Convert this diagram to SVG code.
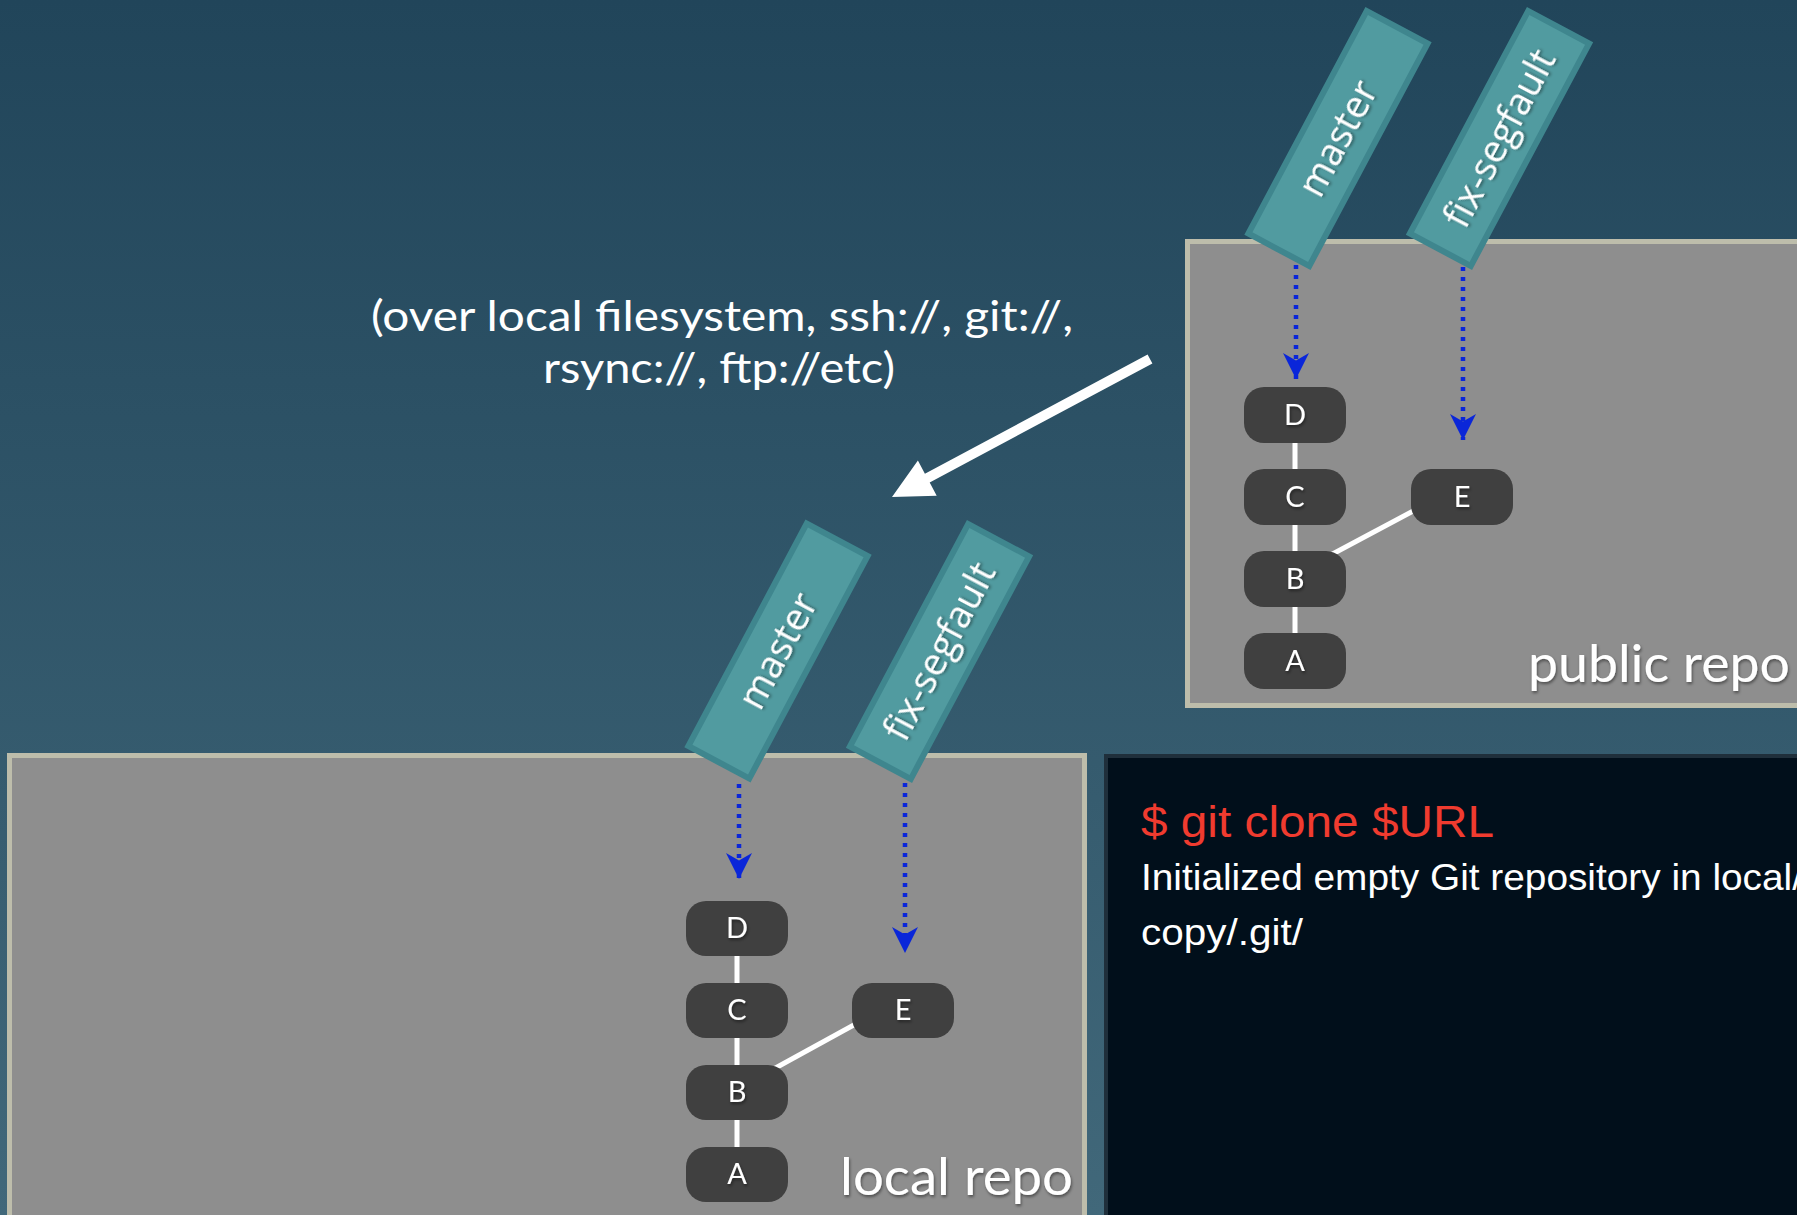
<svg xmlns="http://www.w3.org/2000/svg" width="1797" height="1215" viewBox="0 0 1797 1215">
<defs>
<linearGradient id="bg" x1="0" y1="0" x2="0" y2="1">
<stop offset="0" stop-color="#21455a"/>
<stop offset="1" stop-color="#41687a"/>
</linearGradient>
<filter id="sh" x="-20%" y="-20%" width="140%" height="140%">
<feDropShadow dx="1" dy="2" stdDeviation="1.5" flood-color="#000" flood-opacity="0.45"/>
</filter>
<marker id="ah" markerUnits="userSpaceOnUse" markerWidth="26" markerHeight="26" viewBox="0 0 24 24" refX="24" refY="12" orient="auto">
<path d="M0,0 L24,12 L0,24 L7,12 z" fill="#0a26d9"/>
</marker>
</defs>
<style>
.repo{fill:#8e8e8e;stroke:#bdbdab;stroke-width:5}
.tag{fill:#519ba0;stroke:#3f868e;stroke-width:6}
.tagt{font-family:"Open Sans","DejaVu Sans",sans-serif;font-size:38px;fill:#fff;text-anchor:middle}
.node{fill:#404040}
.nodet{font-family:Lato,"Open Sans",sans-serif;font-size:29px;fill:#fff;text-anchor:middle}
.edge{stroke:#fff;stroke-width:5;fill:none}
.ptr{stroke:#0a26d9;stroke-width:4.5;stroke-dasharray:4 6;fill:none}
.lbl{font-family:Lato,"Open Sans",sans-serif;font-size:53px;fill:#fff}
.cap{font-family:Lato,"Open Sans",sans-serif;font-size:43px;fill:#fff;text-anchor:middle}
.term{font-family:"Liberation Sans",Arial,sans-serif}
</style>
<rect x="0" y="0" width="1797" height="1215" fill="url(#bg)"/>

<g id="caption">
<text class="cap" x="722" y="331" textLength="702" lengthAdjust="spacingAndGlyphs">(over local filesystem, ssh://, git://,</text>
<text class="cap" x="719" y="383" textLength="352" lengthAdjust="spacingAndGlyphs">rsync://, ftp://etc)</text>
</g>

<g id="public-repo">
<rect class="repo" x="1187.5" y="241.5" width="700" height="464"/>
<text class="lbl" x="1528" y="682" textLength="262" lengthAdjust="spacingAndGlyphs" filter="url(#sh)">public repo</text>
</g>

<g id="local-repo">
<rect class="repo" x="9.5" y="755.5" width="1075" height="600"/>
<text class="lbl" x="840" y="1195" textLength="233" lengthAdjust="spacingAndGlyphs" filter="url(#sh)">local repo</text>
</g>

<g id="terminal">
<rect x="1106" y="756" width="760" height="520" fill="#010f1b" stroke="#1f2f3b" stroke-width="4"/>
<text class="term" x="1141" y="837" font-size="45" fill="#f03b2f" textLength="353" lengthAdjust="spacingAndGlyphs">$ git clone $URL</text>
<text class="term" x="1141" y="890" font-size="36" fill="#fff" textLength="662" lengthAdjust="spacingAndGlyphs">Initialized empty Git repository in local/</text>
<text class="term" x="1141" y="945" font-size="36" fill="#fff" textLength="162" lengthAdjust="spacingAndGlyphs">copy/.git/</text>
</g>

<g id="connectors">
<line class="edge" x1="1295" y1="415" x2="1295" y2="661"/>
<line class="edge" x1="1295" y1="574" x2="1462" y2="485"/>
<line class="edge" x1="737" y1="928" x2="737" y2="1174"/>
<line class="edge" x1="737" y1="1089" x2="903" y2="998"/>
<line class="ptr" x1="1296" y1="265" x2="1296" y2="379" marker-end="url(#ah)"/>
<line class="ptr" x1="1463" y1="267" x2="1463" y2="440" marker-end="url(#ah)"/>
<line class="ptr" x1="739" y1="784" x2="739" y2="879" marker-end="url(#ah)"/>
<line class="ptr" x1="905" y1="783" x2="905" y2="953" marker-end="url(#ah)"/>
<polygon points="892,497 936.7,495.8 929.7,482.5 1152.4,363.4 1147.6,354.6 924.9,473.7 917.9,460.5" fill="#fff"/>
</g>

<g id="pub-D"><rect class="node" x="1244" y="387" width="102" height="56" rx="20"/><text class="nodet" x="1295" y="425" filter="url(#sh)">D</text></g>
<g id="pub-C"><rect class="node" x="1244" y="469" width="102" height="56" rx="20"/><text class="nodet" x="1295" y="507" filter="url(#sh)">C</text></g>
<g id="pub-B"><rect class="node" x="1244" y="551" width="102" height="56" rx="20"/><text class="nodet" x="1295" y="589" filter="url(#sh)">B</text></g>
<g id="pub-A"><rect class="node" x="1244" y="633" width="102" height="56" rx="20"/><text class="nodet" x="1295" y="671" filter="url(#sh)">A</text></g>
<g id="pub-E"><rect class="node" x="1411" y="469" width="102" height="56" rx="20"/><text class="nodet" x="1462" y="507" filter="url(#sh)">E</text></g>

<g id="loc-D"><rect class="node" x="686" y="901" width="102" height="55" rx="20"/><text class="nodet" x="737" y="938" filter="url(#sh)">D</text></g>
<g id="loc-C"><rect class="node" x="686" y="983" width="102" height="55" rx="20"/><text class="nodet" x="737" y="1020" filter="url(#sh)">C</text></g>
<g id="loc-B"><rect class="node" x="686" y="1065" width="102" height="55" rx="20"/><text class="nodet" x="737" y="1102" filter="url(#sh)">B</text></g>
<g id="loc-A"><rect class="node" x="686" y="1147" width="102" height="55" rx="20"/><text class="nodet" x="737" y="1184" filter="url(#sh)">A</text></g>
<g id="loc-E"><rect class="node" x="852" y="983" width="102" height="55" rx="20"/><text class="nodet" x="903" y="1020" filter="url(#sh)">E</text></g>

<g id="pub-master" transform="translate(1338,138.5) rotate(-62)"><rect class="tag" x="-126" y="-34.5" width="252" height="69"/><text class="tagt" x="0" y="13" filter="url(#sh)">master</text></g>
<g id="pub-fix" transform="translate(1499.5,138.5) rotate(-62)"><rect class="tag" x="-126" y="-34.5" width="252" height="69"/><text class="tagt" x="0" y="13" filter="url(#sh)">fix-segfault</text></g>
<g id="loc-master" transform="translate(778,651) rotate(-62)"><rect class="tag" x="-126" y="-34.5" width="252" height="69"/><text class="tagt" x="0" y="13" filter="url(#sh)">master</text></g>
<g id="loc-fix" transform="translate(939.5,651.5) rotate(-62)"><rect class="tag" x="-126" y="-34.5" width="252" height="69"/><text class="tagt" x="0" y="13" filter="url(#sh)">fix-segfault</text></g>
</svg>
